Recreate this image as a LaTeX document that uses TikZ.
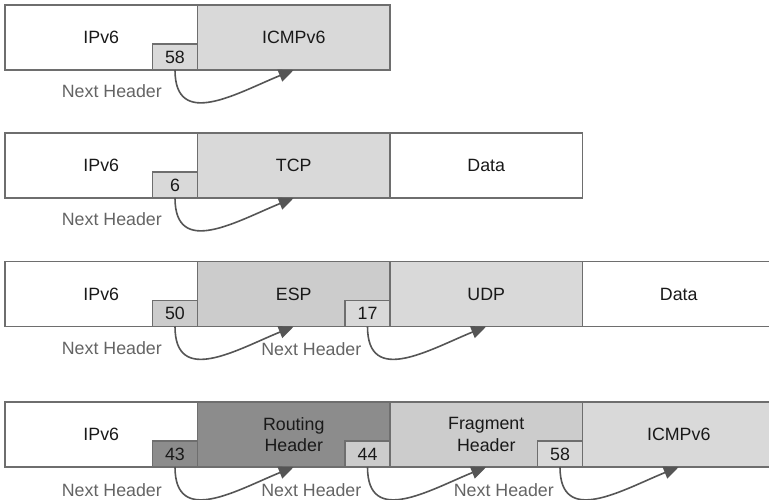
\documentclass[tikz,border=0pt]{standalone}
\usepackage{fontspec}
\setmainfont{Liberation Sans}
\usepackage{tikz}
\usetikzlibrary{positioning,arrows.meta}
\definecolor{hdr-light}{RGB}{217,217,217}
\definecolor{hdr-mid}{RGB}{204,204,204}
\definecolor{hdr-dark}{RGB}{140,140,140}
\definecolor{hdr-line}{RGB}{110,110,110}
\definecolor{nh-text}{RGB}{100,100,100}
\definecolor{nh-arrow}{RGB}{85,85,85}

\begin{document}
\begin{tikzpicture}[x=1pt,y=1pt,
    font=\fontsize{17.8}{21.5}\selectfont,
    hdr/.style={draw=hdr-line, line width=1.2, minimum width=192.5, minimum height=65,
                inner sep=0, outer sep=0, align=center, text=black!90},
    nh/.style={draw=hdr-line, line width=1.2, minimum width=45, minimum height=26,
               inner sep=0, outer sep=0, anchor=south east, text=black!90},
    lbl/.style={text=nh-text, anchor=east, inner sep=0},
    nxt/.style={draw=nh-arrow, line width=1.6, -{Triangle[length=15,width=12.5]},
                out=-90, in=202, looseness=1.3}]
    \useasboundingbox (0,0) rectangle (769,-499);

    % row 1
    \node[hdr] (ip1) at (101.25,-37.5) {IPv6};
    \node[hdr, fill=hdr-light, right=0 of ip1] (icmp1) {ICMPv6};
    \node[nh, fill=hdr-light] (n1) at (ip1.south east) {58};
    \draw[nxt] (n1.south) to (icmp1.south);
    \node[lbl] at ([xshift=-13,yshift=-21]n1.south) {Next Header};

    % row 2
    \node[hdr] (ip2) at (101.25,-165.5) {IPv6};
    \node[hdr, fill=hdr-light, right=0 of ip2] (tcp2) {TCP};
    \node[hdr, right=0 of tcp2] (data2) {Data};
    \node[nh, fill=hdr-light] (n2) at (ip2.south east) {6};
    \draw[nxt] (n2.south) to (tcp2.south);
    \node[lbl] at ([xshift=-13,yshift=-21]n2.south) {Next Header};

    % row 3
    \node[hdr] (ip3) at (101.25,-294) {IPv6};
    \node[hdr, fill=hdr-mid, right=0 of ip3] (esp3) {ESP};
    \node[hdr, fill=hdr-light, right=0 of esp3] (udp3) {UDP};
    \node[hdr, right=0 of udp3] (data3) {Data};
    \node[nh, fill=hdr-mid] (n3a) at (ip3.south east) {50};
    \node[nh, fill=hdr-light] (n3b) at (esp3.south east) {17};
    \draw[nxt] (n3a.south) to (esp3.south);
    \draw[nxt] (n3b.south) to (udp3.south);
    \node[lbl] at ([xshift=-13,yshift=-22]n3a.south) {Next Header};
    \node[lbl] at ([xshift=-6,yshift=-23]n3b.south) {Next Header};

    % row 4
    \node[hdr] (ip4) at (101.25,-434.5) {IPv6};
    \node[hdr, fill=hdr-dark, right=0 of ip4] (rt4) {Routing\\Header};
    \node[hdr, fill=hdr-mid, right=0 of rt4] (frag4) {Fragment\\Header};
    \node[hdr, fill=hdr-light, right=0 of frag4] (icmp4) {ICMPv6};
    \node[nh, fill=hdr-dark] (n4a) at (ip4.south east) {43};
    \node[nh, fill=hdr-mid] (n4b) at (rt4.south east) {44};
    \node[nh, fill=hdr-light] (n4c) at (frag4.south east) {58};
    \draw[nxt] (n4a.south) to (rt4.south);
    \draw[nxt] (n4b.south) to (frag4.south);
    \draw[nxt] (n4c.south) to (icmp4.south);
    \node[lbl] at ([xshift=-13,yshift=-23]n4a.south) {Next Header};
    \node[lbl] at ([xshift=-6,yshift=-23]n4b.south) {Next Header};
    \node[lbl] at ([xshift=-6,yshift=-23]n4c.south) {Next Header};
\end{tikzpicture}
\end{document}
